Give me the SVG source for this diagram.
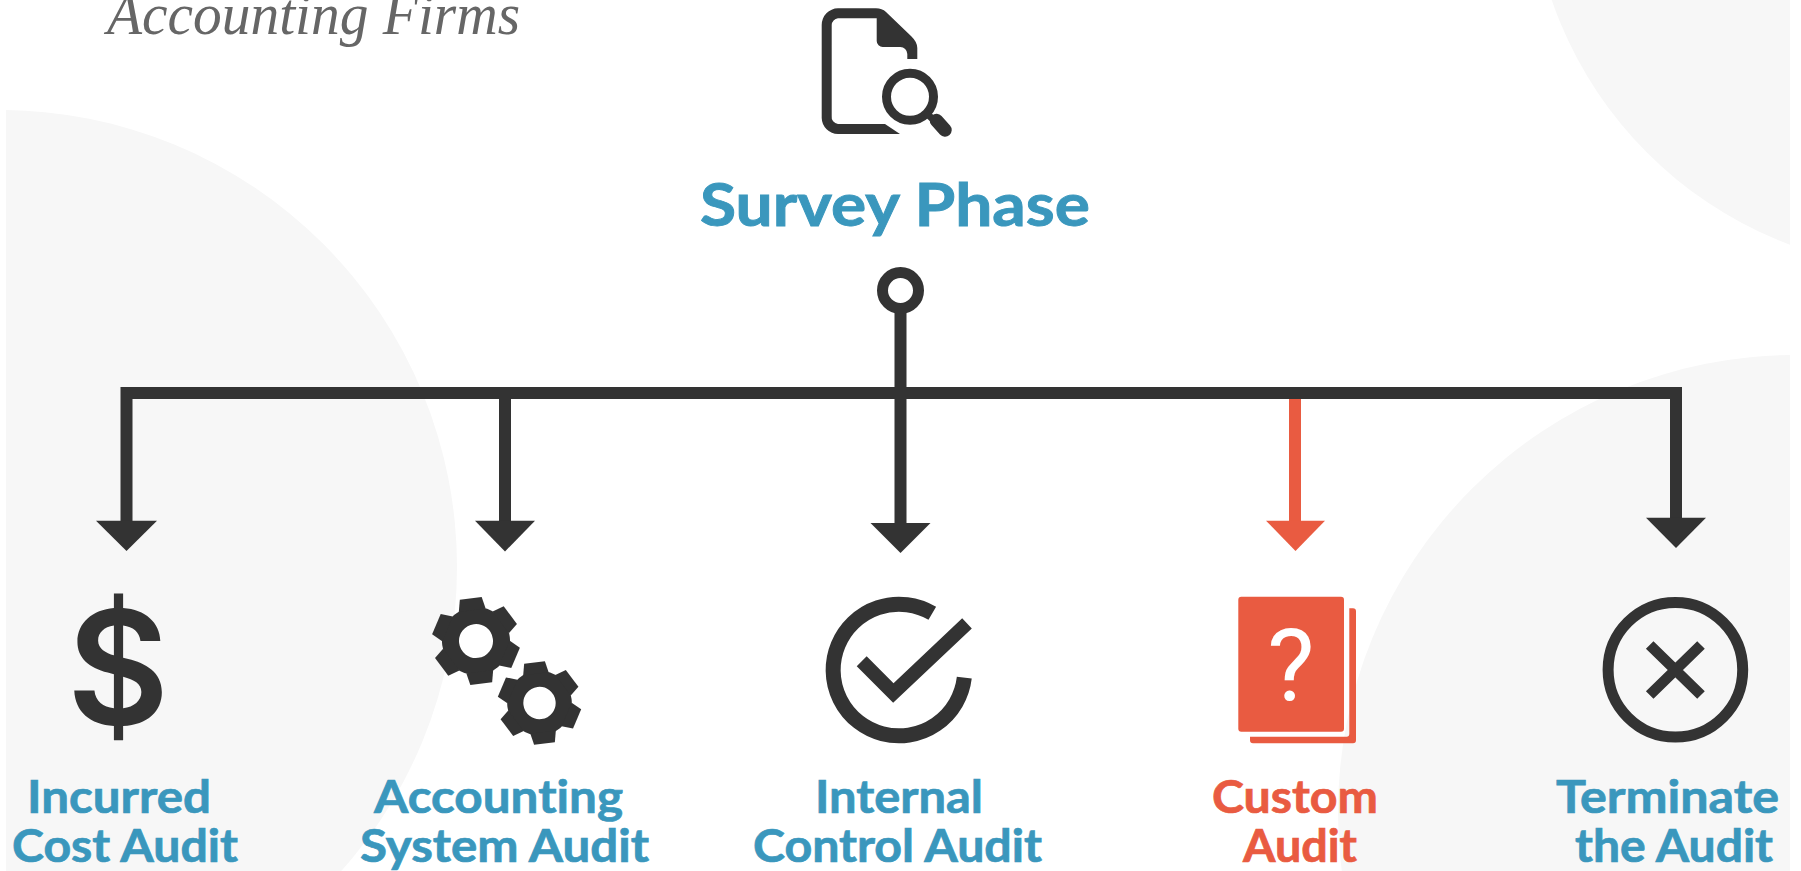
<svg xmlns="http://www.w3.org/2000/svg" xmlns:xlink="http://www.w3.org/1999/xlink" width="1801" height="871" viewBox="0 0 1801 871">
<style>
.bg{fill:#f7f7f7}
.lbl{font-family:"Lato","Liberation Sans",sans-serif;font-weight:700;font-size:45px;fill:#3a97bd;stroke:#3a97bd;stroke-width:.7px;font-variant-ligatures:none}
.lbr{fill:#e95b41;stroke:#e95b41}
.red{fill:#e95b41}
.dark{fill:#333}
.ln{stroke:#333;stroke-width:12;fill:none}
.ic{stroke:#333;fill:none}
</style>
<defs>
<clipPath id="page"><rect x="6" y="0" width="1784" height="871"/></clipPath>
<g id="gear">
<circle r="25.500" fill="none" stroke="#333" stroke-width="17"/>
<g class="dark">
<polygon id="tooth" points="-11,-43 11,-43 13.500,-31 -13.500,-31"/>
<use xlink:href="#tooth" href="#tooth" transform="rotate(60)"/>
<use xlink:href="#tooth" href="#tooth" transform="rotate(120)"/>
<use xlink:href="#tooth" href="#tooth" transform="rotate(180)"/>
<use xlink:href="#tooth" href="#tooth" transform="rotate(240)"/>
<use xlink:href="#tooth" href="#tooth" transform="rotate(300)"/>
</g>
</g>
</defs>
<rect width="1801" height="871" fill="#fff"/>
<g id="background" clip-path="url(#page)">
<circle class="bg" cx="0" cy="567" r="457"/>
<circle class="bg" cx="1930" cy="-130" r="400"/>
<circle class="bg" cx="1795" cy="812" r="457"/>
</g>
<text id="heading" x="107" y="34" font-family="'Liberation Serif',serif" font-style="italic" font-size="60" fill="#666" textLength="413" lengthAdjust="spacingAndGlyphs">Accounting Firms</text>
<g id="connectors">
<path class="ln" d="M900.500 313V393M126.500 530V393H1676V530M505 393V530M900.500 393V530"/>
<path d="M1295 399V530" fill="none" stroke="#e95b41" stroke-width="12"/>
<polygon class="dark" points="96,520.700 157,520.700 126.500,551"/>
<polygon class="dark" points="475,520.700 535,520.700 505,551.500"/>
<polygon class="dark" points="870.500,523 930.500,523 900.500,553"/>
<polygon class="red" points="1266,520.700 1325,520.700 1295.500,551"/>
<polygon class="dark" points="1646,517.700 1706,517.700 1676,548"/>
<circle cx="900.500" cy="290.500" r="18" fill="#fff" stroke="#333" stroke-width="11"/>
</g>
<g id="survey-phase">
<path class="dark" d="M917.300 59H907.300V54A7 7 0 0 0 900 47H883A6 6 0 0 1 876.700 41V18.300H838A7 7 0 0 0 831.700 25V116A7 7 0 0 0 838 124H885L900 134H838A16.500 16.500 0 0 1 821.700 118V25A16.500 16.500 0 0 1 838 8.300H876Q882 8.300 886 12L911 36Q917.300 42 917.300 48Z"/>
<circle class="ic" cx="910" cy="96.700" r="23.500" stroke-width="9"/>
<path class="ic" d="M926 113L936 122" stroke-width="7"/>
<path class="ic" d="M936.500 120.500L945 130" stroke-width="13.500" stroke-linecap="round"/>
<text x="895" y="226" text-anchor="middle" font-family="Lato,'Liberation Sans',sans-serif" font-weight="700" font-size="60" fill="#3a97bd" stroke="#3a97bd" stroke-width=".9" style="font-variant-ligatures:none" textLength="390" lengthAdjust="spacingAndGlyphs">Survey Phase</text>
</g>
<g id="incurred-cost-audit">
<text x="118" y="724" text-anchor="middle" font-family="Inter,'Liberation Sans',sans-serif" font-weight="600" font-size="157" fill="#333">$</text>
<text class="lbl" x="119" y="812.700" text-anchor="middle" textLength="184" lengthAdjust="spacingAndGlyphs">Incurred</text>
<text class="lbl" x="125" y="861.700" text-anchor="middle" textLength="226" lengthAdjust="spacingAndGlyphs">Cost Audit</text>
</g>
<g id="accounting-system-audit">
<use xlink:href="#gear" href="#gear" transform="translate(476 641) rotate(-7)"/>
<use xlink:href="#gear" href="#gear" transform="translate(539.500 703) rotate(-7) scale(0.95)"/>
<text class="lbl" x="498.500" y="812.700" text-anchor="middle" textLength="249" lengthAdjust="spacingAndGlyphs">Accounting</text>
<text class="lbl" x="504.500" y="861.700" text-anchor="middle" textLength="289" lengthAdjust="spacingAndGlyphs">System Audit</text>
</g>
<g id="internal-control-audit">
<path class="ic" d="M932.300 613.300A65.800 65.800 0 1 0 964.300 677.700" stroke-width="15"/>
<polyline class="ic" points="861.700,661.300 893.300,693 967,623.300" stroke-width="14"/>
<text class="lbl" x="899" y="812.700" text-anchor="middle" textLength="168" lengthAdjust="spacingAndGlyphs">Internal</text>
<text class="lbl" x="897.500" y="861.700" text-anchor="middle" textLength="289" lengthAdjust="spacingAndGlyphs">Control Audit</text>
</g>
<g id="custom-audit">
<rect class="red" x="1238.300" y="596.700" width="105.700" height="135" rx="3"/>
<path class="red" d="M1349.300 608.300H1353A3 3 0 0 1 1356 611.300V740.300A3 3 0 0 1 1353 743.300H1253A3 3 0 0 1 1250 740.300V736.700H1346A3 3 0 0 0 1349.300 733.700Z"/>
<text x="1291" y="700" text-anchor="middle" font-family="Roboto,sans-serif" font-size="100" fill="#fff">?</text>
<text class="lbl lbr" x="1295" y="812.700" text-anchor="middle" textLength="166" lengthAdjust="spacingAndGlyphs" style="fill:#e95b41;stroke:#e95b41">Custom</text>
<text class="lbl lbr" x="1300" y="861.700" text-anchor="middle" textLength="114" lengthAdjust="spacingAndGlyphs" style="fill:#e95b41;stroke:#e95b41">Audit</text>
</g>
<g id="terminate-the-audit">
<circle class="ic" cx="1675.400" cy="669.700" r="67.300" stroke-width="11"/>
<path class="ic" d="M1649.700 645L1701 695M1701 645L1649.700 695" stroke-width="10.800"/>
<text class="lbl" x="1667.500" y="812.700" text-anchor="middle" textLength="223" lengthAdjust="spacingAndGlyphs">Terminate</text>
<text class="lbl" x="1674" y="861.700" text-anchor="middle" textLength="198" lengthAdjust="spacingAndGlyphs">the Audit</text>
</g>
</svg>
